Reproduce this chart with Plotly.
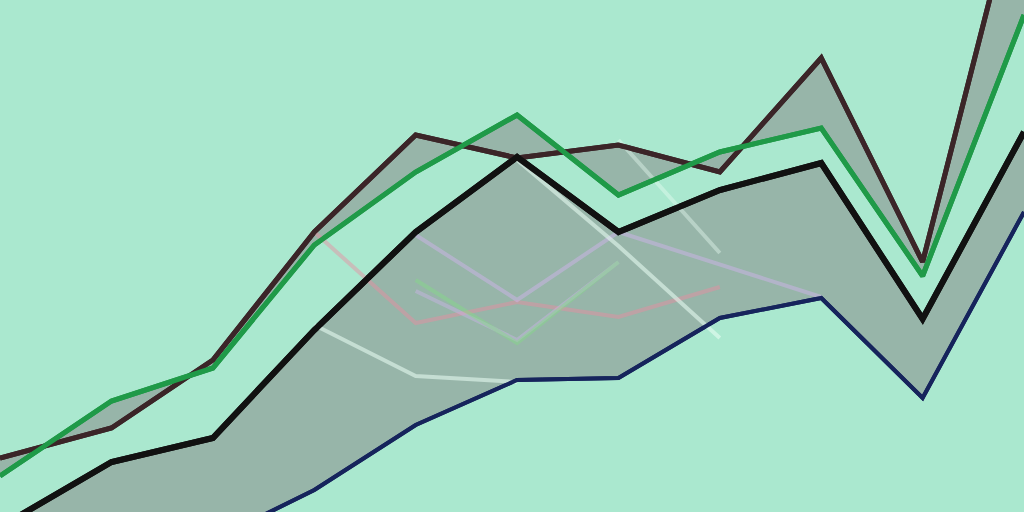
import plotly.graph_objects as go

# x positions of the 11 samples (first gap slightly wider, as in the picture)
x = [0, 1.1, 2.1, 3.1, 4.1, 5.1, 6.1, 7.1, 8.1, 9.1, 10.1]

# main band series
upper_a = [54, 84, 152, 280, 377, 354, 367, 340, 454, 250, 647]   # dark brown line
upper_b = [36, 111, 144, 267, 340, 397, 317, 360, 384, 236, 497]  # green line
lower_a = [-15, 50, 74, 182, 280, 355, 280, 322, 349, 193, 380]   # black line
lower_b = [-128, -78, -28, 22, 87, 132, 134, 194, 214, 114, 300]  # navy line

# faint background series
faint_pink = [None, None, None, 280, 189, 210, 195, 225, None, None, None]
faint_lav_a = [None, None, None, None, 277, 212, 280, 247, 215, None, None]
faint_lav_b = [None, None, None, None, 221, 172, 250, None, None, None, None]
faint_green = [None, None, None, None, 232, 169, 250, None, None, None, None]
faint_white_a = [None, None, None, 187, 136, 130, None, None, None, None, None]
faint_white_b = [None, None, None, None, None, 352, 266, 174, None, None, None]
faint_white_c = [None, None, None, None, None, None, 372, 259, None, None, None]

BG = "#aae8cf"
BAND = "rgba(135,135,135,0.52)"

fig = go.Figure()

# upper band
fig.add_trace(go.Scatter(x=x, y=upper_a, mode="lines",
                         line=dict(color="#3b2528", width=5), hoverinfo="skip"))
fig.add_trace(go.Scatter(x=x, y=upper_b, mode="lines", fill="tonexty", fillcolor=BAND,
                         line=dict(color="#1f9a48", width=5), hoverinfo="skip"))
# lower band
fig.add_trace(go.Scatter(x=x, y=lower_a, mode="lines",
                         line=dict(color="#111111", width=6), hoverinfo="skip"))
fig.add_trace(go.Scatter(x=x, y=lower_b, mode="lines", fill="tonexty", fillcolor=BAND,
                         line=dict(color="#16245c", width=4), hoverinfo="skip"))

faint = [
    (faint_pink, "rgba(235,140,160,0.45)"),
    (faint_lav_a, "rgba(210,180,240,0.45)"),
    (faint_lav_b, "rgba(210,180,240,0.4)"),
    (faint_green, "rgba(130,225,130,0.4)"),
    (faint_white_a, "rgba(235,255,245,0.55)"),
    (faint_white_b, "rgba(235,255,245,0.55)"),
    (faint_white_c, "rgba(235,255,245,0.4)"),
]
for ys, col in faint:
    fig.add_trace(go.Scatter(x=x, y=ys, mode="lines", connectgaps=False,
                             line=dict(color=col, width=4), hoverinfo="skip"))

# redraw main lines on top of faint lines
for ys, col, w in [(upper_a, "#3b2528", 5), (upper_b, "#1f9a48", 5),
                   (lower_a, "#111111", 6), (lower_b, "#16245c", 4)]:
    fig.add_trace(go.Scatter(x=x, y=ys, mode="lines",
                             line=dict(color=col, width=w), hoverinfo="skip"))

fig.update_layout(
    width=1024, height=512,
    margin=dict(l=0, r=0, t=0, b=0),
    paper_bgcolor=BG, plot_bgcolor=BG,
    showlegend=False,
    xaxis=dict(range=[0, 10.1], visible=False, fixedrange=True),
    yaxis=dict(range=[0, 512], visible=False, fixedrange=True),
)

fig.write_html(
    "out.html",
    config={"displayModeBar": False},
    post_script="document.body.style.margin='0px';document.body.style.overflow='hidden';",
)
